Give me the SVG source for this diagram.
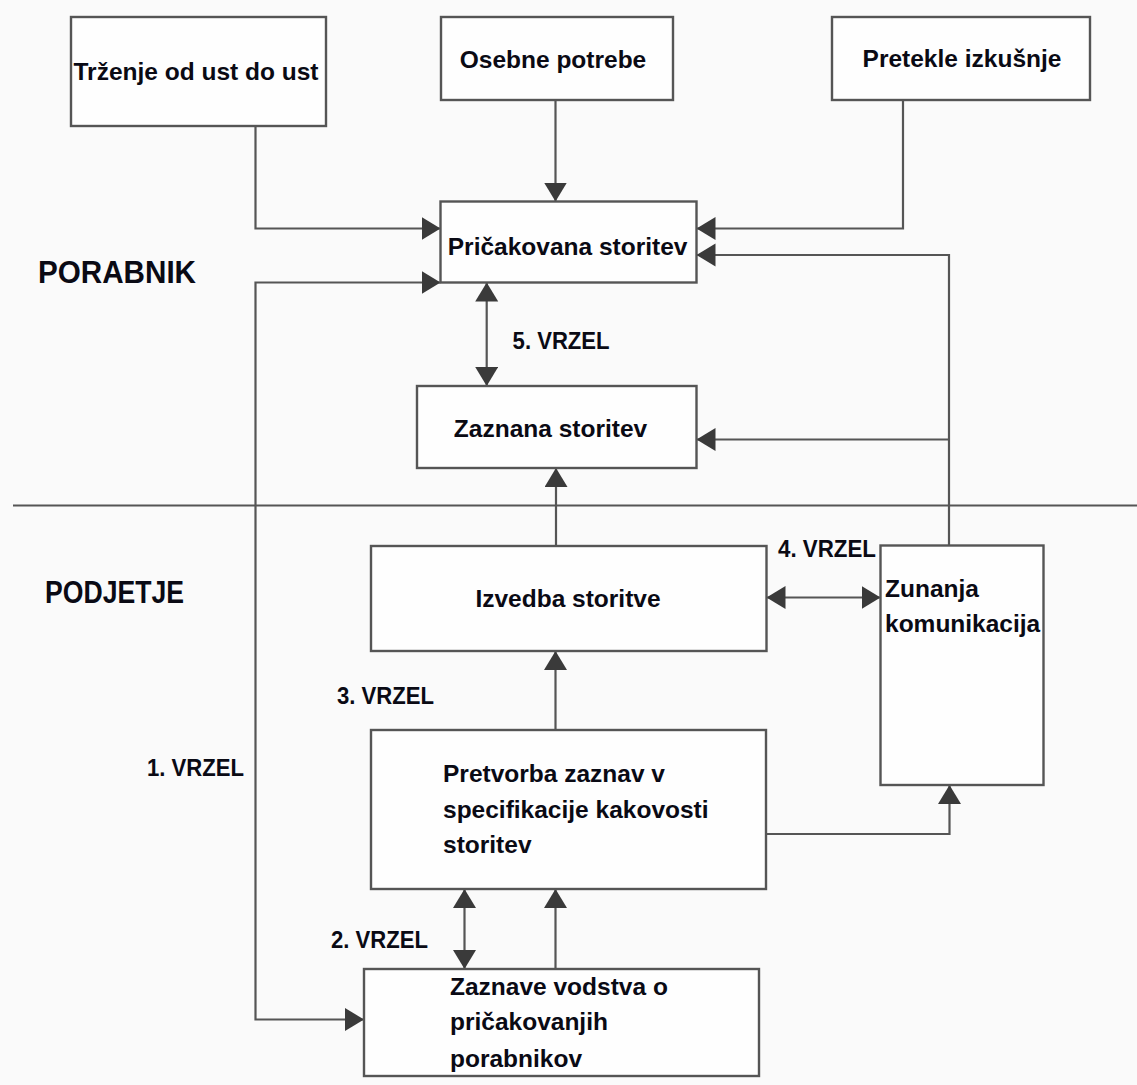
<svg xmlns="http://www.w3.org/2000/svg" width="1137" height="1085" viewBox="0 0 1137 1085">
<defs>
<style>
.bg{fill:#fafafa}
.box{fill:#fefefe;stroke:#555;stroke-width:2.4}
.t{font-family:"Liberation Sans",Arial,sans-serif;font-weight:bold;font-size:24.5px;fill:#0a0a14}
.tc{text-anchor:middle}
.lab{font-family:"Liberation Sans",Arial,sans-serif;font-weight:bold;font-size:24px;fill:#0a0a14}
.side{font-family:"Liberation Sans",Arial,sans-serif;font-weight:bold;font-size:32px;fill:#0a0a14}
.ln{fill:none;stroke:#555;stroke-width:2.2}
.a{marker-end:url(#ah)}
.ab{marker-start:url(#ah);marker-end:url(#ah)}
</style>
<marker id="ah" markerUnits="userSpaceOnUse" markerWidth="20" markerHeight="24" refX="19" refY="11.5" orient="auto-start-reverse">
<path d="M0,0 L19,11.5 L0,23 z" fill="#3a3a3a"/>
</marker>
</defs>
<rect class="bg" x="0" y="0" width="1137" height="1085"/>

<g id="sides">
<text class="side" x="38" y="283" textLength="158" lengthAdjust="spacingAndGlyphs">PORABNIK</text>
<text class="side" x="45" y="603" textLength="139" lengthAdjust="spacingAndGlyphs">PODJETJE</text>
<line x1="13" y1="505.5" x2="1137" y2="505.5" stroke="#555" stroke-width="2.2"/>
</g>

<g id="connectors">
<path class="ln a" d="M255.5,126 V228.5 H440.5"/>
<path class="ln a" d="M555.5,100 V201.5"/>
<path class="ln a" d="M903,100 V228.5 H696.5"/>
<path class="ln a" d="M949,545.5 V255 H696.5"/>
<path class="ln a" d="M949,439.5 H696.5"/>
<path class="ln ab" d="M486.7,282.5 V386"/>
<path class="ln a" d="M556,546 V468"/>
<path class="ln ab" d="M766.5,597.5 H880.5"/>
<path class="ln a" d="M555.5,730 V651"/>
<path class="ln a" d="M766,834 H949.5 V785"/>
<path class="ln ab" d="M464.5,889 V969"/>
<path class="ln a" d="M555.5,969 V889"/>
<path class="ln ab" d="M440.5,282.5 H255.5 V1019.5 H364"/>
</g>

<g id="labels">
<text class="lab" x="512.6" y="349" textLength="97" lengthAdjust="spacingAndGlyphs">5. VRZEL</text>
<text class="lab" x="778" y="556.5" textLength="98" lengthAdjust="spacingAndGlyphs">4. VRZEL</text>
<text class="lab" x="337" y="704" textLength="97" lengthAdjust="spacingAndGlyphs">3. VRZEL</text>
<text class="lab" x="331" y="948" textLength="97" lengthAdjust="spacingAndGlyphs">2. VRZEL</text>
<text class="lab" x="147" y="776" textLength="97" lengthAdjust="spacingAndGlyphs">1. VRZEL</text>
</g>

<g id="n1">
<rect class="box" x="71" y="17" width="255" height="109"/>
<text class="t tc" x="196" y="80">Trženje od ust do ust</text>
</g>
<g id="n2">
<rect class="box" x="441" y="17" width="232" height="83"/>
<text class="t tc" x="553" y="68">Osebne potrebe</text>
</g>
<g id="n3">
<rect class="box" x="832" y="17" width="258" height="83"/>
<text class="t tc" x="962" y="67">Pretekle izkušnje</text>
</g>
<g id="n4">
<rect class="box" x="440.5" y="201.5" width="256" height="81"/>
<text class="t tc" x="567.6" y="255">Pričakovana storitev</text>
</g>
<g id="n5">
<rect class="box" x="417" y="386" width="279.5" height="82"/>
<text class="t tc" x="550.5" y="436.7">Zaznana storitev</text>
</g>
<g id="n6">
<rect class="box" x="371" y="546" width="395.5" height="105"/>
<text class="t tc" x="568" y="607">Izvedba storitve</text>
</g>
<g id="n7">
<rect class="box" x="880.5" y="545.5" width="163" height="239.5"/>
<text class="t" x="885" y="597">Zunanja</text>
<text class="t" x="885" y="632">komunikacija</text>
</g>
<g id="n8">
<rect class="box" x="371" y="730" width="395" height="159"/>
<text class="t" x="443" y="782">Pretvorba zaznav v</text>
<text class="t" x="443" y="818">specifikacije kakovosti</text>
<text class="t" x="443" y="853">storitev</text>
</g>
<g id="n9">
<rect class="box" x="364" y="969" width="395" height="107"/>
<text class="t" x="450" y="995">Zaznave vodstva o</text>
<text class="t" x="450" y="1030">pričakovanjih</text>
<text class="t" x="450" y="1066.5">porabnikov</text>
</g>
</svg>
